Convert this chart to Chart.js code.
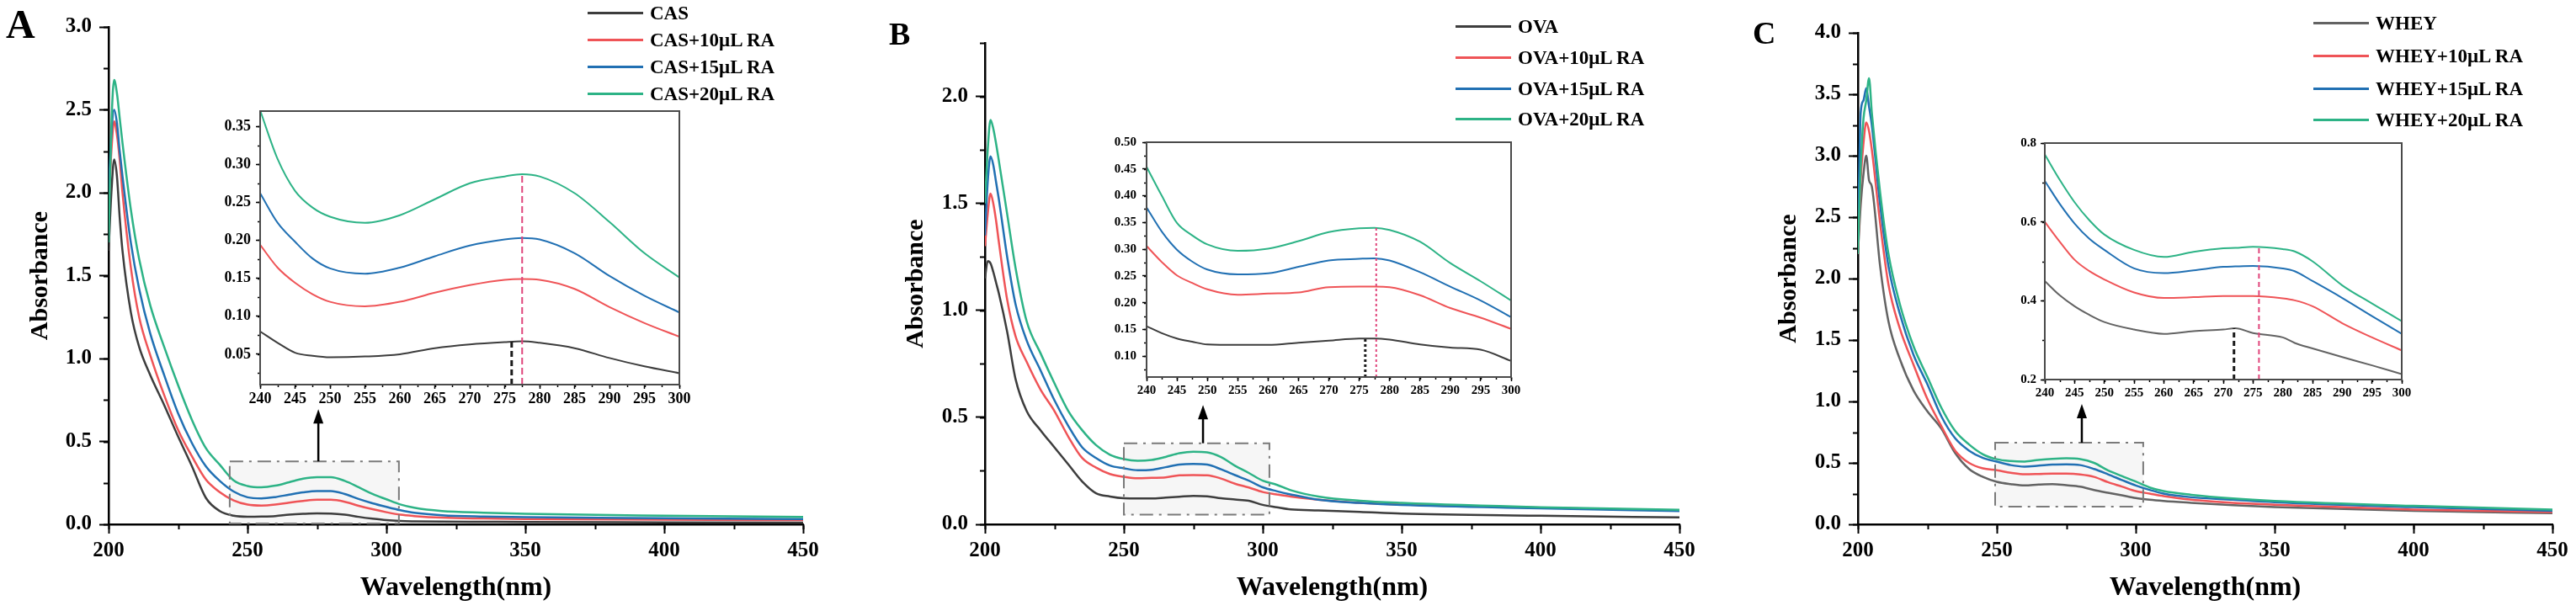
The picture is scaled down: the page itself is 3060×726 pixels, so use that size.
<!DOCTYPE html>
<html>
<head>
<meta charset="utf-8">
<title>UV-vis absorption spectra: CAS, OVA, WHEY with RA</title>
<script src="https://cdn.jsdelivr.net/npm/chart.js@4.4.1/dist/chart.umd.min.js"></script>
<style>
  html, body { margin: 0; background: #fff; }
  #fig { position: relative; width: 3060px; height: 726px; overflow: hidden;
         font-family: 'Liberation Serif', 'Times New Roman', serif; font-weight: bold; color: #000; }
  .box { position: absolute; }
  .tag { position: absolute; line-height: 1; }
  .row { position: absolute; white-space: nowrap; font-size: 23px; line-height: 28px; height: 28px; }
  .row i { display: inline-block; width: 66px; height: 3px; vertical-align: middle; margin-right: 8px; position: relative; top: -2px; }
</style>
</head>
<body>
<div id="fig"></div>
<script>
// ------- Data -------------------------------------------------------------

// wavelength grids, nm
const WL_MAIN    = [200, 201, 202, 203, 204, 205, 208, 211, 215, 220, 225, 230, 235, 240, 245, 250, 255, 260,
                    265, 270, 275, 280, 285, 290, 295, 300, 305, 310, 320, 335, 350, 400, 450];
const WL_INSET   = [240, 242.5, 245, 247.5, 250, 255, 260, 265, 270, 275, 277.5, 280, 285, 290, 295, 300];
const WL_INSET_C = [240, 242.5, 245, 247.5, 250, 255, 260, 265, 270, 272, 275, 280, 282, 285, 290, 295, 300];

// A – casein
const LABELS_A = ['CAS', 'CAS+10μL RA', 'CAS+15μL RA', 'CAS+20μL RA'];
const CAS_0  = [1.65, 2.0, 2.2, 2.1, 1.85, 1.65, 1.28, 1.07, 0.9, 0.72, 0.53, 0.35, 0.16, 0.08, 0.052, 0.046, 0.047, 0.05,
                0.058, 0.063, 0.066, 0.065, 0.058, 0.045, 0.034, 0.025, 0.02, 0.018, 0.016, 0.015, 0.014, 0.012, 0.01];
const CAS_10 = [1.9, 2.25, 2.43, 2.35, 2.2, 2.0, 1.55, 1.25, 1.02, 0.78, 0.57, 0.41, 0.27, 0.194, 0.144, 0.119, 0.113, 0.119,
                0.131, 0.141, 0.148, 0.148, 0.136, 0.112, 0.091, 0.073, 0.058, 0.05, 0.04, 0.035, 0.032, 0.028, 0.025];
const CAS_15 = [2.0, 2.35, 2.5, 2.42, 2.25, 2.1, 1.7, 1.42, 1.15, 0.9, 0.67, 0.49, 0.35, 0.262, 0.198, 0.163, 0.156, 0.164,
                0.179, 0.193, 0.201, 0.201, 0.183, 0.153, 0.127, 0.105, 0.085, 0.07, 0.055, 0.047, 0.043, 0.037, 0.032];
const CAS_20 = [1.7, 2.4, 2.68, 2.6, 2.45, 2.3, 1.9, 1.6, 1.32, 1.07, 0.84, 0.63, 0.46, 0.36, 0.265, 0.231, 0.223, 0.233,
                0.254, 0.275, 0.284, 0.284, 0.262, 0.224, 0.183, 0.151, 0.12, 0.1, 0.08, 0.07, 0.063, 0.052, 0.045];
const CAS_0_IN  = [0.080, 0.065, 0.052, 0.048, 0.046, 0.047, 0.050, 0.058, 0.063, 0.066, 0.067, 0.065, 0.058, 0.045, 0.034, 0.025];
const CAS_10_IN = [0.194, 0.164, 0.144, 0.129, 0.119, 0.113, 0.119, 0.131, 0.141, 0.148, 0.149, 0.148, 0.136, 0.112, 0.091, 0.073];
const CAS_15_IN = [0.262, 0.223, 0.198, 0.176, 0.163, 0.156, 0.164, 0.179, 0.193, 0.201, 0.203, 0.201, 0.183, 0.153, 0.127, 0.105];
const CAS_20_IN = [0.371, 0.307, 0.265, 0.243, 0.231, 0.223, 0.233, 0.254, 0.275, 0.284, 0.287, 0.284, 0.262, 0.224, 0.183, 0.151];
const PEAK_A_X = [276, 277.5];
const PEAK_A_Y = [0.067, 0.287];

// B – ovalbumin
const LABELS_B = ['OVA', 'OVA+10μL RA', 'OVA+15μL RA', 'OVA+20μL RA'];
const OVA_0  = [1.15, 1.23, 1.22, 1.18, 1.13, 1.08, 0.9, 0.68, 0.53, 0.44, 0.36, 0.28, 0.2, 0.145, 0.13, 0.122, 0.121, 0.121,
                0.125, 0.129, 0.133, 0.131, 0.122, 0.116, 0.11, 0.091, 0.08, 0.07, 0.065, 0.058, 0.05, 0.04, 0.032];
const OVA_10 = [1.3, 1.45, 1.546, 1.5, 1.42, 1.32, 1.05, 0.88, 0.76, 0.63, 0.53, 0.41, 0.31, 0.265, 0.235, 0.222, 0.215, 0.217,
                0.219, 0.229, 0.23, 0.229, 0.214, 0.19, 0.172, 0.151, 0.14, 0.13, 0.115, 0.1, 0.092, 0.078, 0.065];
const OVA_15 = [1.35, 1.6, 1.72, 1.68, 1.6, 1.52, 1.25, 1.03, 0.86, 0.72, 0.58, 0.46, 0.36, 0.31, 0.275, 0.262, 0.253, 0.255,
                0.267, 0.279, 0.282, 0.279, 0.257, 0.23, 0.204, 0.173, 0.155, 0.14, 0.115, 0.1, 0.09, 0.075, 0.062];
const OVA_20 = [1.5, 1.75, 1.89, 1.85, 1.78, 1.7, 1.45, 1.2, 0.95, 0.8, 0.66, 0.53, 0.44, 0.37, 0.325, 0.305, 0.297, 0.301,
                0.315, 0.332, 0.339, 0.336, 0.314, 0.274, 0.24, 0.204, 0.185, 0.16, 0.13, 0.11, 0.1, 0.08, 0.068];
const OVA_0_IN  = [0.156, 0.143, 0.133, 0.127, 0.122, 0.121, 0.121, 0.125, 0.129, 0.133, 0.133, 0.131, 0.122, 0.116, 0.112, 0.091];
const OVA_10_IN = [0.306, 0.276, 0.251, 0.237, 0.225, 0.215, 0.217, 0.219, 0.229, 0.230, 0.230, 0.229, 0.214, 0.190, 0.172, 0.151];
const OVA_15_IN = [0.378, 0.333, 0.299, 0.277, 0.262, 0.253, 0.255, 0.267, 0.279, 0.282, 0.283, 0.279, 0.257, 0.230, 0.204, 0.173];
const OVA_20_IN = [0.454, 0.400, 0.349, 0.326, 0.309, 0.297, 0.301, 0.315, 0.332, 0.339, 0.340, 0.336, 0.314, 0.274, 0.240, 0.204];
const PEAK_B_X = [276, 277.8];
const PEAK_B_Y = [0.133, 0.34];

// C – whey
const LABELS_C = ['WHEY', 'WHEY+10μL RA', 'WHEY+15μL RA', 'WHEY+20μL RA'];
const WHEY_0  = [2.2, 2.6, 2.85, 3.0, 2.8, 2.75, 2.1, 1.65, 1.35, 1.09, 0.92, 0.78, 0.58, 0.45, 0.386, 0.346, 0.327, 0.316,
                 0.323, 0.327, 0.318, 0.307, 0.279, 0.257, 0.236, 0.214, 0.2, 0.19, 0.175, 0.155, 0.14, 0.11, 0.09];
const WHEY_10 = [2.2, 2.8, 3.1, 3.27, 3.2, 3.05, 2.45, 1.95, 1.6, 1.3, 1.02, 0.8, 0.6, 0.5, 0.455, 0.44, 0.42, 0.407,
                 0.409, 0.412, 0.412, 0.406, 0.386, 0.343, 0.307, 0.27, 0.25, 0.23, 0.2, 0.175, 0.16, 0.12, 0.1];
const WHEY_15 = [2.3, 3.35, 3.45, 3.55, 3.4, 3.25, 2.6, 2.1, 1.72, 1.38, 1.14, 0.88, 0.7, 0.6, 0.54, 0.51, 0.482, 0.47,
                 0.477, 0.486, 0.488, 0.482, 0.45, 0.407, 0.361, 0.316, 0.28, 0.25, 0.22, 0.2, 0.18, 0.14, 0.11];
const WHEY_20 = [2.2, 2.9, 3.3, 3.45, 3.63, 3.35, 2.7, 2.2, 1.8, 1.45, 1.2, 0.95, 0.76, 0.65, 0.57, 0.53, 0.515, 0.511,
                 0.524, 0.533, 0.537, 0.531, 0.5, 0.439, 0.393, 0.348, 0.3, 0.27, 0.24, 0.21, 0.19, 0.15, 0.12];
const WHEY_0_IN  = [0.45, 0.414, 0.386, 0.364, 0.346, 0.327, 0.316, 0.323, 0.327, 0.33, 0.318, 0.307, 0.293, 0.279, 0.257, 0.236, 0.214];
const WHEY_10_IN = [0.60, 0.55, 0.504, 0.475, 0.454, 0.421, 0.407, 0.409, 0.412, 0.412, 0.412, 0.406, 0.401, 0.386, 0.343, 0.307, 0.274];
const WHEY_15_IN = [0.704, 0.646, 0.596, 0.557, 0.529, 0.482, 0.47, 0.477, 0.486, 0.487, 0.488, 0.482, 0.475, 0.45, 0.407, 0.361, 0.316];
const WHEY_20_IN = [0.771, 0.707, 0.65, 0.604, 0.568, 0.529, 0.511, 0.524, 0.533, 0.534, 0.537, 0.531, 0.525, 0.50, 0.439, 0.393, 0.348];
const PEAK_C_X = [271.8, 276];
const PEAK_C_Y = [0.33, 0.537];

// axis ticks and ranges
const X_TICKS_MAIN  = [200, 250, 300, 350, 400, 450];
const X_TICKS_INSET = [240, 245, 250, 255, 260, 265, 270, 275, 280, 285, 290, 295, 300];
const Y_TICKS_A  = [0, 0.5, 1.0, 1.5, 2.0, 2.5, 3.0];
const Y_TICKS_B  = [0, 0.5, 1.0, 1.5, 2.0];
const Y_TICKS_C  = [0, 0.5, 1.0, 1.5, 2.0, 2.5, 3.0, 3.5, 4.0];
const Y_TICKS_IA = [0.05, 0.10, 0.15, 0.20, 0.25, 0.30, 0.35];
const Y_TICKS_IB = [0.10, 0.15, 0.20, 0.25, 0.30, 0.35, 0.40, 0.45, 0.50];
const Y_TICKS_IC = [0.2, 0.4, 0.6, 0.8];
const Y_RANGE_A = [0, 3.0],   Y_RANGE_B = [0, 2.25],   Y_RANGE_C = [0, 4.0];
const Y_RANGE_IA = [0.01, 0.37], Y_RANGE_IB = [0.061, 0.50], Y_RANGE_IC = [0.2, 0.8];

// zoom rectangles on the main plots [x0, x1, y0, y1] and arrow [x, tip y]
const ZOOM_A = [243.6, 304.5, 0.005, 0.38],  ARROW_A = [275.5, 0.694];
const ZOOM_B = [250, 302.4, 0.045, 0.379],   ARROW_B = [278.5, 0.558];
const ZOOM_C = [249.4, 302.7, 0.144, 0.664], ARROW_C = [280.6, 0.98];

// ------- Layout / style ----------------------------------------------------

const COLORS   = ['#3d3d3d', '#ef5457', '#2170b3', '#2db386'];
const COLORS_C = ['#636363', '#ef5457', '#2170b3', '#2db386'];
const FONT = 'Liberation Serif';

const fig = document.getElementById('fig');
Chart.defaults.font.family = FONT;
Chart.defaults.color = '#000';

// extra drawing: minor ticks, inset frame, zoom box + arrow
const extras = {
  id: 'extras',
  beforeDatasetsDraw (chart, args, o) {
    if (!o.box) return;
    const { ctx, scales: { x, y } } = chart;
    const [x0, x1, y0, y1] = o.box;
    ctx.save();
    ctx.fillStyle = 'rgba(0,0,0,0.035)';
    ctx.fillRect(x.getPixelForValue(x0), y.getPixelForValue(y1),
      x.getPixelForValue(x1) - x.getPixelForValue(x0), y.getPixelForValue(y0) - y.getPixelForValue(y1));
    ctx.restore();
  },
  afterDatasetsDraw (chart, args, o) {
    const { ctx, scales: { x, y } } = chart;
    if (o.box) {
      const [x0, x1, y0, y1] = o.box;
      ctx.save();
      ctx.strokeStyle = '#7a7a7a';
      ctx.lineWidth = 2;
      ctx.setLineDash([16, 7, 3, 7]);
      ctx.strokeRect(x.getPixelForValue(x0), y.getPixelForValue(y1),
        x.getPixelForValue(x1) - x.getPixelForValue(x0), y.getPixelForValue(y0) - y.getPixelForValue(y1));
      ctx.restore();
    }
    if (o.arrow) {
      const ax = x.getPixelForValue(o.arrow[0]);
      const from = y.getPixelForValue(o.box[3]);
      const tip = y.getPixelForValue(o.arrow[1]);
      ctx.save();
      ctx.strokeStyle = '#000'; ctx.fillStyle = '#000'; ctx.lineWidth = 2.5;
      ctx.beginPath(); ctx.moveTo(ax, from); ctx.lineTo(ax, tip + 12); ctx.stroke();
      ctx.beginPath(); ctx.moveTo(ax, tip); ctx.lineTo(ax - 6, tip + 17); ctx.lineTo(ax + 6, tip + 17); ctx.closePath(); ctx.fill();
      ctx.restore();
    }
  },
  afterDraw (chart, args, o) {
    const { ctx, chartArea: a, scales: { x, y } } = chart;
    ctx.save();
    ctx.strokeStyle = '#000';
    ctx.lineWidth = o.tickWidth || 2;
    ctx.beginPath();
    if (o.minorX) {
      const n = Math.round((x.max - x.min) / o.minorX);
      for (let i = 0; i <= n; i++) {
        const px = Math.round(x.getPixelForValue(x.min + i * o.minorX)) + 0.5;
        ctx.moveTo(px, a.bottom); ctx.lineTo(px, a.bottom + o.minorLen);
      }
    }
    if (o.minorY) {
      const start = Math.ceil(y.min / o.minorY - 1e-6);
      const end = Math.floor(y.max / o.minorY + 1e-6);
      for (let k = start; k <= end; k++) {
        const py = Math.round(y.getPixelForValue(k * o.minorY)) + 0.5;
        ctx.moveTo(a.left, py); ctx.lineTo(a.left - o.minorLen, py);
      }
    }
    ctx.stroke();
    if (o.frame) {
      ctx.strokeStyle = '#4a4a4a';
      ctx.lineWidth = 2;
      ctx.strokeRect(a.left, a.top, a.right - a.left, a.bottom - a.top);
    }
    ctx.restore();
  }
};
Chart.register(extras);

function pts (wl, ys) { return wl.map((x, i) => ({ x, y: ys[i] })); }

function place (slot) {
  const div = document.createElement('div');
  div.className = 'box';
  Object.assign(div.style, { left: slot.left + 'px', top: slot.top + 'px', width: slot.w + 'px', height: slot.h + 'px' });
  const cv = document.createElement('canvas');
  div.appendChild(cv);
  fig.appendChild(div);
  return cv;
}

function axisStyle (tickLen, width) {
  return {
    grid: { drawOnChartArea: false, drawTicks: true, tickLength: tickLen, tickWidth: width, tickColor: '#000' },
    border: { display: true, color: '#000', width: width + 0.5 }
  };
}

// one main spectrum panel
function mainChart (p) {
  const { slot, area } = p;
  return new Chart(place(slot), {
    type: 'line',
    data: {
      datasets: p.series.map((ys, i) => ({
        label: p.labels[i], data: pts(WL_MAIN, ys), borderColor: p.colors[i], borderWidth: 2.5,
        pointRadius: 0, cubicInterpolationMode: 'monotone', fill: false, order: p.series.length - i
      }))
    },
    options: {
      responsive: true, maintainAspectRatio: false, animation: false, events: [],
      layout: { padding: { left: 0, bottom: 0, top: area.top - slot.top, right: slot.left + slot.w - area.right } },
      plugins: {
        legend: { display: false }, tooltip: { enabled: false },
        extras: { box: p.box, arrow: p.arrow, minorX: 25, minorY: 0.25, minorLen: 6, tickWidth: 2 }
      },
      scales: {
        x: {
          type: 'linear', min: 200, max: 450,
          afterFit: s => { s.height = slot.top + slot.h - area.bottom; },
          afterBuildTicks: s => { s.ticks = X_TICKS_MAIN.map(v => ({ value: v })); },
          ticks: { font: { size: 25, weight: 'bold' }, color: '#000', padding: 6, maxRotation: 0, callback: v => String(v) },
          title: { display: true, text: 'Wavelength(nm)', color: '#000', font: { size: 32, weight: 'bold' }, padding: { top: 0, bottom: 8 } },
          ...axisStyle(11, 2)
        },
        y: {
          min: p.yRange[0], max: p.yRange[1],
          afterFit: s => { s.width = area.left - slot.left; },
          afterBuildTicks: s => { s.ticks = p.yTicks.map(v => ({ value: v })); },
          ticks: { font: { size: 25, weight: 'bold' }, color: '#000', padding: 9, callback: v => v.toFixed(1) },
          title: { display: true, text: 'Absorbance', color: '#000', font: { size: 30, weight: 'bold' }, padding: { top: 30, bottom: 0 } },
          ...axisStyle(11, 2)
        }
      }
    }
  });
}

// one zoomed inset
function insetChart (p) {
  const { slot, area } = p;
  const curves = p.series.map((ys, i) => ({
    data: pts(p.wl, ys), borderColor: p.colors[i], borderWidth: 2,
    pointRadius: 0, cubicInterpolationMode: 'monotone', fill: false, order: 10 + p.series.length - i
  }));
  const marks = p.peakX.map((px, i) => ({
    data: [{ x: px, y: p.yRange[0] }, { x: px, y: p.peakY[i] }],
    borderColor: i === 0 ? '#1a1a1a' : '#e0457b', borderWidth: i === 0 ? 3 : 2,
    borderDash: p.dash[i], pointRadius: 0, tension: 0, fill: false, order: 0
  }));
  return new Chart(place(slot), {
    type: 'line',
    data: { datasets: curves.concat(marks) },
    options: {
      responsive: true, maintainAspectRatio: false, animation: false, events: [],
      layout: { padding: { left: 0, bottom: 0, top: area.top - slot.top, right: slot.left + slot.w - area.right } },
      plugins: {
        legend: { display: false }, tooltip: { enabled: false },
        extras: { frame: true, minorX: 2.5, minorY: p.minorY, minorLen: 3, tickWidth: 1.5 }
      },
      scales: {
        x: {
          type: 'linear', min: 240, max: 300,
          afterFit: s => { s.height = slot.top + slot.h - area.bottom; },
          afterBuildTicks: s => { s.ticks = X_TICKS_INSET.map(v => ({ value: v })); },
          ticks: { font: { size: p.font, weight: 'bold' }, color: '#000', padding: 2, maxRotation: 0, callback: v => String(v) },
          ...axisStyle(5, 1.5)
        },
        y: {
          min: p.yRange[0], max: p.yRange[1],
          afterFit: s => { s.width = area.left - slot.left; },
          afterBuildTicks: s => { s.ticks = p.yTicks.map(v => ({ value: v })); },
          ticks: { font: { size: p.font, weight: 'bold' }, color: '#000', padding: p.ypad, callback: v => v.toFixed(p.dec) },
          ...axisStyle(5, 1.5)
        }
      }
    }
  });
}

function legend (labels, colors, x, rows) {
  labels.forEach((t, i) => {
    const r = document.createElement('div');
    r.className = 'row';
    r.style.left = x + 'px';
    r.style.top = (rows[i] - 14) + 'px';
    const line = document.createElement('i');
    line.style.background = colors[i];
    r.appendChild(line);
    r.appendChild(document.createTextNode(t));
    fig.appendChild(r);
  });
}

function tag (text, left, top, size) {
  const d = document.createElement('div');
  d.className = 'tag';
  d.textContent = text;
  Object.assign(d.style, { left: left + 'px', top: top + 'px', fontSize: size + 'px' });
  fig.appendChild(d);
}

// ------- Build ---------------------------------------------------------------

mainChart({
  slot: { left: 0, top: 0, w: 1000, h: 726 }, area: { left: 129, top: 32, right: 954, bottom: 623 },
  series: [CAS_0, CAS_10, CAS_15, CAS_20], labels: LABELS_A, colors: COLORS,
  yRange: Y_RANGE_A, yTicks: Y_TICKS_A, box: ZOOM_A, arrow: ARROW_A
});
mainChart({
  slot: { left: 1040, top: 0, w: 1000, h: 726 }, area: { left: 1170, top: 51, right: 1995, bottom: 623 },
  series: [OVA_0, OVA_10, OVA_15, OVA_20], labels: LABELS_B, colors: COLORS,
  yRange: Y_RANGE_B, yTicks: Y_TICKS_B, box: ZOOM_B, arrow: ARROW_B
});
mainChart({
  slot: { left: 2077, top: 0, w: 983, h: 726 }, area: { left: 2207, top: 39, right: 3032, bottom: 623 },
  series: [WHEY_0, WHEY_10, WHEY_15, WHEY_20], labels: LABELS_C, colors: COLORS_C,
  yRange: Y_RANGE_C, yTicks: Y_TICKS_C, box: ZOOM_C, arrow: ARROW_C
});

insetChart({
  slot: { left: 250, top: 110, w: 580, h: 380 }, area: { left: 309, top: 132, right: 807, bottom: 457 },
  wl: WL_INSET, series: [CAS_0_IN, CAS_10_IN, CAS_15_IN, CAS_20_IN], colors: COLORS,
  yRange: Y_RANGE_IA, yTicks: Y_TICKS_IA, minorY: 0.025, dec: 2, font: 18, ypad: 6,
  peakX: PEAK_A_X, peakY: PEAK_A_Y, dash: [[7, 4], [8, 4]]
});
insetChart({
  slot: { left: 1300, top: 150, w: 520, h: 340 }, area: { left: 1362, top: 169, right: 1795, bottom: 448 },
  wl: WL_INSET, series: [OVA_0_IN, OVA_10_IN, OVA_15_IN, OVA_20_IN], colors: COLORS,
  yRange: Y_RANGE_IB, yTicks: Y_TICKS_IB, minorY: 0.025, dec: 2, font: 15, ypad: 7,
  peakX: PEAK_B_X, peakY: PEAK_B_Y, dash: [[3, 3], [3, 3]]
});
insetChart({
  slot: { left: 2370, top: 150, w: 510, h: 340 }, area: { left: 2429, top: 170, right: 2853, bottom: 451 },
  wl: WL_INSET_C, series: [WHEY_0_IN, WHEY_10_IN, WHEY_15_IN, WHEY_20_IN], colors: COLORS_C,
  yRange: Y_RANGE_IC, yTicks: Y_TICKS_IC, minorY: 0.1, dec: 1, font: 15, ypad: 5,
  peakX: PEAK_C_X, peakY: PEAK_C_Y, dash: [[6, 4], [6, 4]]
});

legend(LABELS_A, COLORS, 698, [16, 48, 80, 112]);
legend(LABELS_B, COLORS, 1729, [32, 69, 106, 142]);
legend(LABELS_C, COLORS_C, 2748, [28, 67, 106, 143]);

tag('A', 7, 5, 48);
tag('B', 1056, 21, 38);
tag('C', 2082, 20, 38);
</script>
</body>
</html>
